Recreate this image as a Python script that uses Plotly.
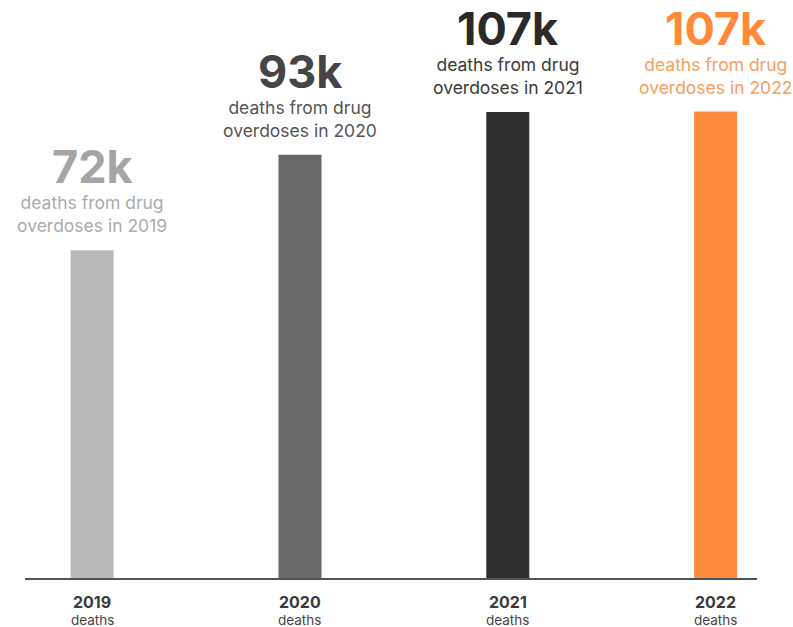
import plotly.graph_objects as go

years = ["2019", "2020", "2021", "2022"]
# bar heights (hidden y scale, thousands)
bar_heights = [72, 93, 102.4, 102.5]
value_labels = ["72k", "93k", "107k", "107k"]
subtitles = ["deaths from drug<br>overdoses in 2019",
             "deaths from drug<br>overdoses in 2020",
             "deaths from drug<br>overdoses in 2021",
             "deaths from drug<br>overdoses in 2022"]
bottom_sub = ["deaths", "deaths", "deaths", "deaths"]

bar_colors = ["#b9b9b9", "#686868", "#2f2f2f", "#ff8c3c"]
value_colors = ["#a5a5a5", "#454545", "#2a2a2a", "#ff8a3a"]
sub_colors = ["#ababab", "#555555", "#3a3a3a", "#f7a060"]

FONT = "Inter"
xpos = list(range(len(years)))

fig = go.Figure(go.Bar(
    x=xpos, y=bar_heights, width=0.207,
    marker=dict(color=bar_colors, line=dict(width=0)),
    hoverinfo="skip",
))

ann = []
for i, yr in enumerate(years):
    ann.append(dict(x=xpos[i], y=bar_heights[i], xref="x", yref="y",
                    text=subtitles[i], showarrow=False, yanchor="bottom",
                    yshift=12, align="center",
                    font=dict(family=FONT, size=17.5, color=sub_colors[i])))
    ann.append(dict(x=xpos[i], y=bar_heights[i], xref="x", yref="y",
                    text="<b>" + value_labels[i] + "</b>", showarrow=False,
                    yanchor="bottom", yshift=54,
                    font=dict(family=FONT, size=45, color=value_colors[i])))
    ann.append(dict(x=xpos[i], y=0, xref="x", yref="paper",
                    text="<b>" + yr + "</b>", showarrow=False, yanchor="top",
                    yshift=-13, borderpad=0,
                    font=dict(family=FONT, size=16, color="#3a3a3a")))
    ann.append(dict(x=xpos[i], y=0, xref="x", yref="paper",
                    text=bottom_sub[i], showarrow=False, yanchor="top",
                    yshift=-32.5, borderpad=0,
                    font=dict(family=FONT, size=13.5, color="#444444")))

fig.update_layout(
    width=793, height=627,
    margin=dict(l=25, r=36, t=0, b=49),
    paper_bgcolor="white", plot_bgcolor="white",
    showlegend=False,
    annotations=ann,
    xaxis=dict(range=[-0.323, 3.199], showticklabels=False,
               showgrid=False, zeroline=False, showline=True,
               linecolor="#4a5560", linewidth=1.5, ticks=""),
    yaxis=dict(range=[0, 127], showticklabels=False, showgrid=False,
               zeroline=False, showline=False, ticks=""),
)

fig.write_html("out.html")
